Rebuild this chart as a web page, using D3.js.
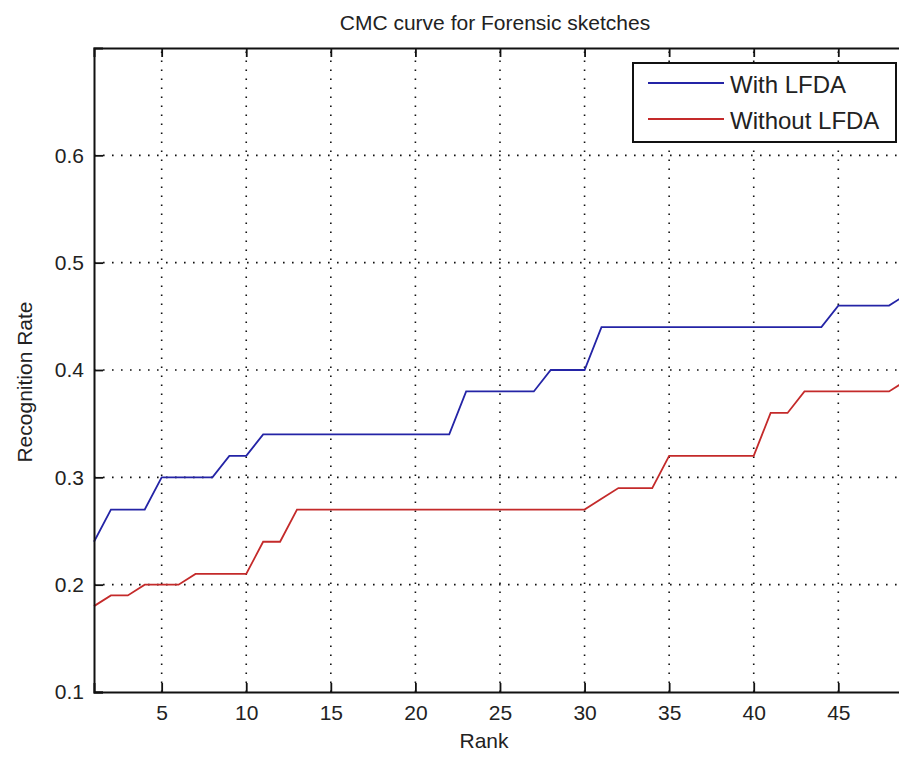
<!DOCTYPE html>
<html>
<head>
<meta charset="utf-8">
<script src="https://cdn.jsdelivr.net/npm/d3@7"></script>
<style>
  html, body { margin: 0; padding: 0; background: #fff; }
  svg { display: block; font-family: "Liberation Sans", Arial, sans-serif; }
  .grid line { stroke: #111; stroke-width: 1.6; stroke-dasharray: 1.6 7.4; }
  .tick-label { font-size: 21px; fill: #222; }
</style>
</head>
<body>
<div id="chart"></div>
<script>
// data
const ranks = [1, 2, 3, 4, 5, 6, 7, 8, 9, 10, 11, 12, 13, 14, 15, 16, 17, 18, 19, 20,
  21, 22, 23, 24, 25, 26, 27, 28, 29, 30, 31, 32, 33, 34, 35, 36, 37, 38, 39, 40,
  41, 42, 43, 44, 45, 46, 47, 48, 49];
const withLFDA = [0.24, 0.27, 0.27, 0.27, 0.30, 0.30, 0.30, 0.30, 0.32, 0.32,
  0.34, 0.34, 0.34, 0.34, 0.34, 0.34, 0.34, 0.34, 0.34, 0.34,
  0.34, 0.34, 0.38, 0.38, 0.38, 0.38, 0.38, 0.40, 0.40, 0.40,
  0.44, 0.44, 0.44, 0.44, 0.44, 0.44, 0.44, 0.44, 0.44, 0.44,
  0.44, 0.44, 0.44, 0.44, 0.46, 0.46, 0.46, 0.46, 0.47];
const withoutLFDA = [0.18, 0.19, 0.19, 0.20, 0.20, 0.20, 0.21, 0.21, 0.21, 0.21,
  0.24, 0.24, 0.27, 0.27, 0.27, 0.27, 0.27, 0.27, 0.27, 0.27,
  0.27, 0.27, 0.27, 0.27, 0.27, 0.27, 0.27, 0.27, 0.27, 0.27,
  0.28, 0.29, 0.29, 0.29, 0.32, 0.32, 0.32, 0.32, 0.32, 0.32,
  0.36, 0.36, 0.38, 0.38, 0.38, 0.38, 0.38, 0.38, 0.39];
const seriesNames = ['With LFDA', 'Without LFDA'];
const seriesColors = ['#2424a6', '#c42a2a'];
const xTicks = [5, 10, 15, 20, 25, 30, 35, 40, 45];
const yTicks = [0.1, 0.2, 0.3, 0.4, 0.5, 0.6];

// dimensions
const WIDTH = 899;
const HEIGHT = 760;
const MARGIN_LEFT = 94;
const MARGIN_TOP = 48;
const PLOT_BOTTOM = 692;
const UNIT_X = 16.916;
const TICK_LEN = 9;

const series = seriesNames.map((name, i) => ({
  name,
  color: seriesColors[i],
  values: ranks.map((r, j) => ({ x: r, y: [withLFDA, withoutLFDA][i][j] })),
}));

// scales
const scaleX = d3.scaleLinear()
  .domain([1, 49])
  .range([MARGIN_LEFT, MARGIN_LEFT + 48 * UNIT_X]);
const scaleY = d3.scaleLinear()
  .domain([0.1, 0.7])
  .range([PLOT_BOTTOM, MARGIN_TOP]);

const $svg = d3.select('#chart').append('svg')
  .attr('width', WIDTH)
  .attr('height', HEIGHT);

const x0 = scaleX.range()[0];
const x1 = scaleX.range()[1];
const y0 = scaleY.range()[0];
const y1 = scaleY.range()[1];

// grid
const $grid = $svg.append('g').attr('class', 'grid');
$grid.selectAll('.gx').data(xTicks).join('line')
  .attr('x1', (d) => scaleX(d)).attr('x2', (d) => scaleX(d))
  .attr('y1', y0).attr('y2', y1);
$grid.selectAll('.gy').data(yTicks.filter((d) => d > 0.1)).join('line')
  .attr('class', 'gy')
  .attr('x1', x0).attr('x2', x1)
  .attr('y1', (d) => scaleY(d)).attr('y2', (d) => scaleY(d));

// lines
const line = d3.line().x((d) => scaleX(d.x)).y((d) => scaleY(d.y));
$svg.append('g').selectAll('path').data(series).join('path')
  .attr('d', (d) => line(d.values))
  .attr('fill', 'none')
  .attr('stroke', (d) => d.color)
  .attr('stroke-width', 1.8);

// axes (matlab style: ticks inside, on bottom and top)
const $axisBottom = $svg.append('g')
  .attr('transform', `translate(0, ${y0})`)
  .call(d3.axisBottom(scaleX).tickValues(xTicks).tickSize(-TICK_LEN).tickPadding(22).tickFormat(d3.format('d')));
const $axisTop = $svg.append('g')
  .attr('transform', `translate(0, ${y1})`)
  .call(d3.axisTop(scaleX).tickValues(xTicks).tickSize(-TICK_LEN).tickFormat(''));
const $axisLeft = $svg.append('g')
  .attr('transform', `translate(${x0}, 0)`)
  .call(d3.axisLeft(scaleY).tickValues(yTicks).tickSize(-TICK_LEN).tickPadding(10).tickFormat(d3.format('.1f')));

[$axisBottom, $axisTop, $axisLeft].forEach(($a) => {
  $a.select('.domain').attr('stroke', '#111').attr('stroke-width', 2);
  $a.selectAll('.tick line').attr('stroke', '#111').attr('stroke-width', 1.8);
  $a.selectAll('.tick text')
    .attr('class', 'tick-label')
    .attr('font-family', null)
    .attr('font-size', null)
    .attr('fill', null);
});
$axisBottom.selectAll('.tick text').attr('dy', '0.0em').attr('y', 28);

// titles
$svg.append('text')
  .attr('x', 495)
  .attr('y', 30)
  .attr('text-anchor', 'middle')
  .attr('font-size', 21)
  .attr('fill', '#222')
  .text('CMC curve for Forensic sketches');

$svg.append('text')
  .attr('x', 484)
  .attr('y', 748)
  .attr('text-anchor', 'middle')
  .attr('font-size', 21)
  .attr('fill', '#222')
  .text('Rank');

$svg.append('text')
  .attr('transform', `translate(32, ${(y0 + y1) / 2 + 12}) rotate(-90)`)
  .attr('text-anchor', 'middle')
  .attr('font-size', 21)
  .attr('fill', '#222')
  .text('Recognition Rate');

// legend
const LEG_X = 633;
const LEG_Y = 63;
const LEG_W = 263;
const LEG_H = 79;
const $legend = $svg.append('g').attr('transform', `translate(${LEG_X}, ${LEG_Y})`);
$legend.append('rect')
  .attr('width', LEG_W).attr('height', LEG_H)
  .attr('fill', '#fff').attr('stroke', '#111').attr('stroke-width', 2);
const $items = $legend.selectAll('.item').data(series).join('g')
  .attr('transform', (d, i) => `translate(0, ${20 + i * 36})`);
$items.append('line')
  .attr('x1', 15).attr('x2', 91)
  .attr('stroke', (d) => d.color).attr('stroke-width', 1.8);
$items.append('text')
  .attr('x', 97).attr('y', 10)
  .attr('font-size', 24)
  .attr('fill', '#222')
  .text((d) => d.name);
</script>
</body>
</html>
